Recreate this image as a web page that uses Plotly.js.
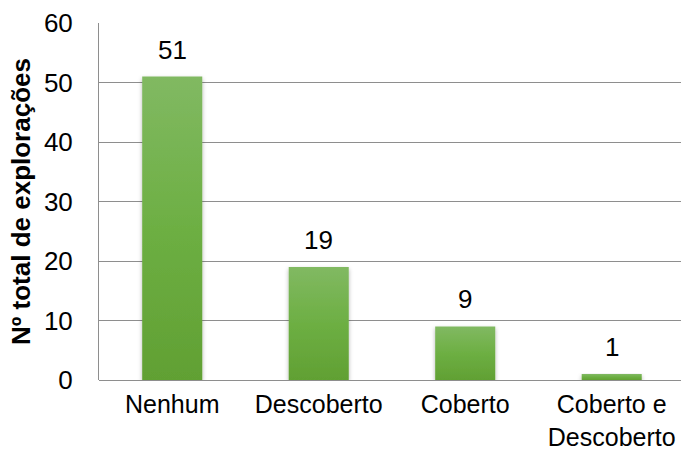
<!DOCTYPE html>
<html>
<head>
<meta charset="utf-8">
<script src="https://cdn.plot.ly/plotly-3.0.1.min.js"></script>
<style>html,body{margin:0;padding:0;background:#fff;}#chart{width:681px;height:452px;}</style>
</head>
<body>
<svg width="0" height="0" style="position:absolute">
  <defs>
    <linearGradient id="barGrad" x1="0" y1="0" x2="0" y2="1">
      <stop offset="0" stop-color="#81b962"/>
      <stop offset="0.5" stop-color="#6daf43"/>
      <stop offset="1" stop-color="#61a033"/>
    </linearGradient>
    <filter id="barShadow" x="-20%" y="-5%" width="140%" height="115%">
      <feDropShadow dx="0" dy="2" stdDeviation="2" flood-color="#000" flood-opacity="0.3"/>
    </filter>
  </defs>
</svg>
<div id="chart"></div>
<script>
const categories = ["Nenhum", "Descoberto", "Coberto", "Coberto e<br>Descoberto"];
const values = [51, 19, 9, 1];
const yTicks = [0, 10, 20, 30, 40, 50, 60];
const yTitle = "Nº total de explorações";

const font = "Liberation Sans, Arial, sans-serif";
const fs = 26;

const trace = {
  type: "bar",
  x: categories,
  y: values,
  width: 0.41,
  marker: {color: "#6cab43", line: {width: 0}},
  hoverinfo: "none"
};

const annotations = categories.map((c, i) => ({
  x: c, y: values[i], xref: "x", yref: "y",
  text: String(values[i]), showarrow: false,
  yanchor: "bottom", yshift: 10,
  font: {family: font, size: fs, color: "#000"}
}));

const layout = {
  width: 681, height: 452,
  margin: {l: 99, r: 0, t: 23, b: 72, pad: 0},
  paper_bgcolor: "#fff", plot_bgcolor: "#fff",
  showlegend: false,
  font: {family: font, size: fs, color: "#000"},
  xaxis: {
    type: "category",
    range: [-0.5, 3.473],
    showgrid: false, zeroline: false,
    showline: false,
    ticks: "", ticklabelstandoff: 7,
    tickfont: {family: font, size: 25, color: "#000"},
    fixedrange: true
  },
  yaxis: {
    range: [0, 60],
    tickvals: yTicks,
    showgrid: true, gridcolor: "#8e8e8e", gridwidth: 1,
    zeroline: true, zerolinecolor: "#8e8e8e", zerolinewidth: 1,
    showline: true, linecolor: "#8e8e8e", linewidth: 1,
    ticks: "", ticklabelstandoff: 20,
    tickfont: {family: font, size: fs, color: "#000"},
    title: {text: yTitle, font: {family: font, size: fs, color: "#000", weight: "bold"}, standoff: 5},
    fixedrange: true
  },
  annotations: annotations
};

Plotly.newPlot("chart", [trace], layout, {displayModeBar: false, staticPlot: true}).then(function (gd) {
  gd.querySelectorAll(".barlayer .point path").forEach(function (p) {
    p.style.fill = "url(#barGrad)";
    p.style.filter = "url(#barShadow)";
  });
});
</script>
</body>
</html>
